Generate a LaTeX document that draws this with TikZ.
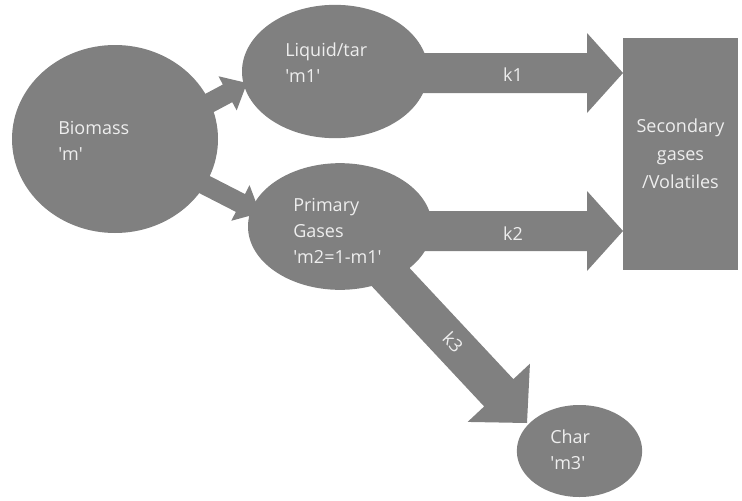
\documentclass[tikz,border=0pt]{standalone}
\usepackage{fontspec}
\setmainfont{Open Sans}
\usetikzlibrary{calc,shapes.geometric}
\definecolor{shapegray}{RGB}{128,128,128}
\definecolor{textlight}{RGB}{238,238,238}
\newcommand{\sq}{\textquotesingle}
% #1 start, #2 tip, #3 shaft half width, #4 head half width, #5 head length
\newcommand{\blockarrow}[5]{%
  \coordinate (ba-base) at ($(#2)!#5!(#1)$);
  \fill[shapegray]
    ($(#1)!#3!90:(#2)$) -- ($(ba-base)!#3!90:(#2)$) -- ($(ba-base)!#4!90:(#2)$)
    -- (#2) -- ($(ba-base)!#4!-90:(#2)$) -- ($(ba-base)!#3!-90:(#2)$)
    -- ($(#1)!#3!-90:(#2)$) -- cycle;
}
\tikzset{
  blob/.style={ellipse, fill=shapegray, draw=none, inner sep=0pt},
  lbl/.style={text=textlight, font=\fontsize{13.5pt}{19.5pt}\selectfont, inner sep=0pt, align=left},
  klbl/.style={text=textlight, font=\fontsize{13.5pt}{19.5pt}\selectfont, inner sep=0pt}
}
\begin{document}
\begin{tikzpicture}[x=0.75pt,y=-0.75pt]
\useasboundingbox (0,0) rectangle (742,500);
% anchor points for the connectors
\coordinate (s1) at (185,116);
\coordinate (t1) at (247,83);
\coordinate (s2) at (180,172);
\coordinate (t2) at (260,213);
\coordinate (sk1) at (335,73);
\coordinate (tk1) at (623,73);
\coordinate (sk2) at (340,231);
\coordinate (tk2) at (623,231);
\coordinate (sk3) at (356,240);
\coordinate (tk3) at (527,423);
% connectors
\blockarrow{s1}{t1}{7.5pt}{14.5pt}{16.5pt}
\blockarrow{s2}{t2}{7.5pt}{15pt}{16.5pt}
\blockarrow{sk1}{tk1}{15pt}{30pt}{27pt}
\blockarrow{sk2}{tk2}{15pt}{30pt}{27pt}
\blockarrow{sk3}{tk3}{15pt}{32pt}{31pt}
% shapes
\node[blob, minimum width=154.5pt, minimum height=141pt] (biomass) at (115,139) {};
\node[blob, minimum width=139.5pt, minimum height=100pt] (liquid) at (335,71.5) {};
\node[blob, minimum width=138pt, minimum height=95pt] (primary) at (340,226.5) {};
\node[blob, minimum width=94pt, minimum height=69pt] (char) at (579.5,451) {};
\node[fill=shapegray, draw=none, inner sep=0pt, minimum width=86.25pt, minimum height=174pt] (secondary) at (680.5,154) {};
% texts
\node[lbl, anchor=west] (biomass-t) at (58,140.5) {Biomass\\\sq m\sq};
\node[lbl, anchor=west] (liquid-t) at (285,62.5) {Liquid/tar\\\sq m1\sq};
\node[lbl, anchor=west] (primary-t) at (293,231) {Primary\\Gases\\\sq m2=1-m1\sq};
\node[lbl, anchor=west] (char-t) at (550,449.5) {Char\\\sq m3\sq};
\node[lbl, align=center, font=\fontsize{13.5pt}{21pt}\selectfont] (secondary-t) at (secondary) {Secondary\\gases\\/Volatiles};
\node[klbl] (k1) at (513,75) {k1};
\node[klbl] (k2) at (513,234) {k2};
\node[klbl, rotate=-47] (k3) at (453,342) {k3};
\end{tikzpicture}
\end{document}
